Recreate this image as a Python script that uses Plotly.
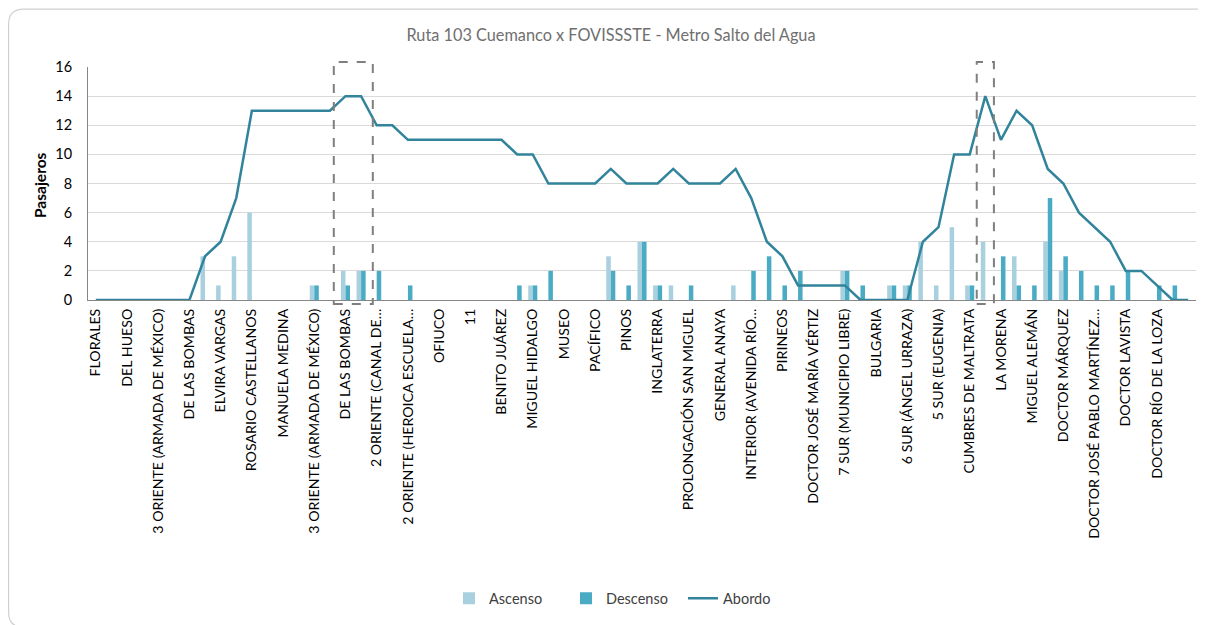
import plotly.graph_objects as go

TITLE = "Ruta 103 Cuemanco x FOVISSSTE - Metro Salto del Agua"
tick_labels = [
    "FLORALES", "DEL HUESO", "3 ORIENTE (ARMADA DE MÉXICO)", "DE LAS BOMBAS",
    "ELVIRA VARGAS", "ROSARIO CASTELLANOS", "MANUELA MEDINA",
    "3 ORIENTE (ARMADA DE MÉXICO)", "DE LAS BOMBAS", "2 ORIENTE (CANAL DE…",
    "2 ORIENTE (HEROICA ESCUELA…", "OFIUCO", "11", "BENITO JUÁREZ",
    "MIGUEL HIDALGO", "MUSEO", "PACÍFICO", "PINOS", "INGLATERRA",
    "PROLONGACIÓN SAN MIGUEL", "GENERAL ANAYA", "INTERIOR (AVENIDA RÍO…",
    "PIRINEOS", "DOCTOR JOSÉ MARÍA VÉRTIZ", "7 SUR (MUNICIPIO LIBRE)", "BULGARIA",
    "6 SUR (ÁNGEL URRAZA)", "5 SUR (EUGENIA)", "CUMBRES DE MALTRATA", "LA MORENA",
    "MIGUEL ALEMÁN", "DOCTOR MÁRQUEZ", "DOCTOR JOSÉ PABLO MARTÍNEZ…",
    "DOCTOR LAVISTA", "DOCTOR RÍO DE LA LOZA",
]
N_STOPS = 71
stop_index = list(range(N_STOPS))
tick_positions = stop_index[::2][:len(tick_labels)]

ascenso = [0, 0, 0, 0, 0, 0, 0, 3, 1, 3, 6, 0, 0, 0, 1, 0, 2, 2, 0, 0,
           0, 0, 0, 0, 0, 0, 0, 0, 1, 0, 0, 0, 0, 3, 0, 4, 1, 1, 0, 0,
           0, 1, 0, 0, 0, 0, 0, 0, 2, 0, 0, 1, 1, 4, 1, 5, 1, 4, 0, 3,
           0, 4, 2, 0, 0, 0, 0, 0, 0, 0, 0]
descenso = [0, 0, 0, 0, 0, 0, 0, 0, 0, 0, 0, 0, 0, 0, 1, 0, 1, 2, 2, 0,
            1, 0, 0, 0, 0, 0, 0, 1, 1, 2, 0, 0, 0, 2, 1, 4, 1, 0, 1, 0,
            0, 0, 2, 3, 1, 2, 0, 0, 2, 1, 0, 1, 1, 0, 0, 0, 1, 0, 3, 1,
            1, 7, 3, 2, 1, 1, 2, 0, 1, 1, 0]
abordo = [0, 0, 0, 0, 0, 0, 0, 3, 4, 7, 13, 13, 13, 13, 13, 13, 14, 14, 12, 12,
          11, 11, 11, 11, 11, 11, 11, 10, 10, 8, 8, 8, 8, 9, 8, 8, 8, 9, 8, 8,
          8, 9, 7, 4, 3, 1, 1, 1, 1, 0, 0, 0, 0, 4, 5, 10, 10, 14, 11, 13,
          12, 9, 8, 6, 5, 4, 2, 2, 1, 0, 0]
highlights = [(16, 17, 0.75), (57, 57, 0.55)]

C_ASC = "#a9d0de"
C_DESC = "#4aabc5"
C_LINE = "#31849b"
FONT = "Lato, 'Open Sans', sans-serif"

fig = go.Figure()
fig.add_bar(x=stop_index, y=ascenso, name="Ascenso", marker_color=C_ASC,
            marker_line_width=0)
fig.add_bar(x=stop_index, y=descenso, name="Descenso", marker_color=C_DESC,
            marker_line_width=0)
fig.add_scatter(x=stop_index, y=abordo, name="Abordo", mode="lines",
                line=dict(color=C_LINE, width=2.5))

# page body has an 8px default margin: the figure starts at (8, 8)
OFF = 8
W, H = 1206 - OFF, 625 - OFF
PL, PR, PT, PB = 88, 1196, 67, 302          # plot area in page pixels
L, R, T, B = PL - OFF, W - (PR - OFF), PT - OFF, H - (PB - OFF)
pw, ph = PR - PL, PB - PT

def px2paper(X, Y):
    return (X - PL) / pw, (PB - Y) / ph

def P(X, Y):
    a, b = px2paper(X, Y)
    return f"{a:.5f},{b:.5f}"

x0p, y0p, x1p, y1p, rad = 8.6, 8.6, 1212, 632, 15
path = (f"M {P(x0p+rad, y0p)} L {P(x1p-rad, y0p)} Q {P(x1p, y0p)} {P(x1p, y0p+rad)} "
        f"L {P(x1p, y1p-rad)} Q {P(x1p, y1p)} {P(x1p-rad, y1p)} "
        f"L {P(x0p+rad, y1p)} Q {P(x0p, y1p)} {P(x0p, y1p-rad)} "
        f"L {P(x0p, y0p+rad)} Q {P(x0p, y0p)} {P(x0p+rad, y0p)} Z")
shapes = [dict(type="path", xref="paper", yref="paper", path=path,
               line=dict(color="#d0d0d0", width=1.2), layer="below")]
for a, b, pad in highlights:
    shapes.append(dict(type="rect", xref="x", yref="paper",
                       x0=a - pad, x1=b + pad,
                       y0=px2paper(0, 306)[1], y1=px2paper(0, 62)[1],
                       line=dict(color="#7f7f7f", width=2, dash="dash"),
                       fillcolor="rgba(0,0,0,0)", layer="above"))

fig.update_layout(
    width=W, height=H,
    margin=dict(l=L, r=R, t=T, b=B),
    paper_bgcolor="white", plot_bgcolor="white",
    font=dict(family=FONT, color="black", size=14),
    barmode="group", bargap=0.42, bargroupgap=0,
    title=dict(text=TITLE, x=(611 - OFF) / W, xanchor="center",
               y=1 - (35 - OFF) / H, yanchor="middle", yref="container",
               xref="container",
               font=dict(family=FONT, size=16.3, color="#6f6f6f")),
    xaxis=dict(range=[-0.5, N_STOPS - 0.5], tickmode="array",
               tickvals=tick_positions, ticktext=tick_labels, tickangle=-90,
               showgrid=False, zeroline=False, showline=True,
               linecolor="#868686", linewidth=1, ticks="",
               ticklabelstandoff=2,
               tickfont=dict(size=14.2, color="black")),
    yaxis=dict(range=[0, 16], dtick=2, showgrid=True, gridcolor="#d9d9d9",
               gridwidth=1, zeroline=False, showline=True, linecolor="#868686",
               linewidth=1, ticks="", ticklabelstandoff=12,
               tickfont=dict(size=14.5, color="black")),
    legend=dict(orientation="h", x=px2paper(452, 0)[0] - 3 / pw, xanchor="left",
                y=px2paper(0, 603)[1], yanchor="middle",
                font=dict(size=14.5, color="#404040"), traceorder="normal",
                itemwidth=30, entrywidth=72, entrywidthmode="pixels"),
    shapes=shapes,
    annotations=[dict(text="<b>Pasajeros</b>", xref="paper", yref="paper",
                      x=px2paper(40, 0)[0], y=px2paper(0, 186)[1],
                      xanchor="center", yanchor="middle", textangle=-90,
                      showarrow=False, font=dict(size=15.5, color="black"))],
)

fig.write_html("out.html")
